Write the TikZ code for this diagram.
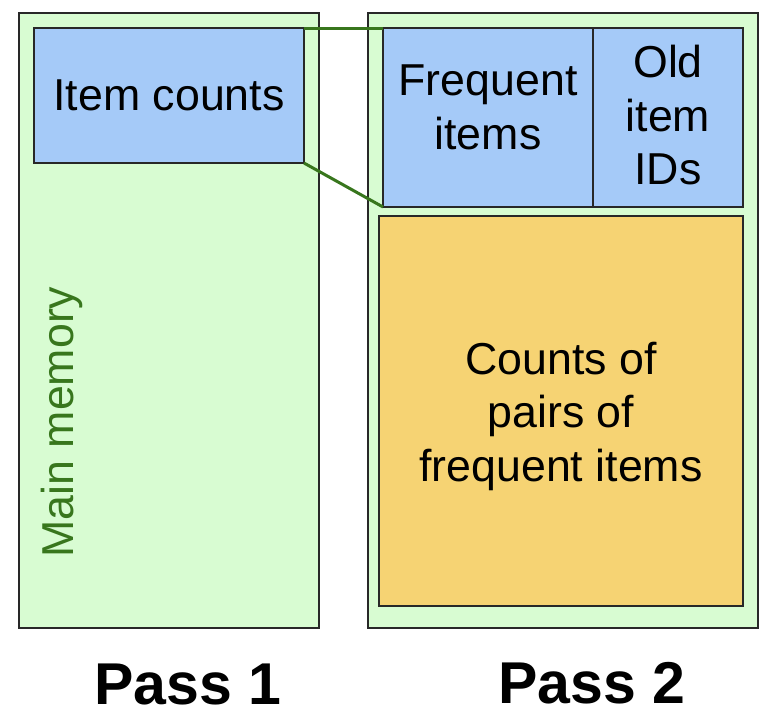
\documentclass[tikz,border=0pt]{standalone}
\usepackage{fontspec}
\setmainfont{Liberation Sans}

\definecolor{memfill}{RGB}{216,252,210}
\definecolor{itemfill}{RGB}{165,202,248}
\definecolor{pairfill}{RGB}{246,211,115}
\definecolor{memgreen}{RGB}{56,118,29}
\definecolor{edgegray}{RGB}{40,40,40}

\begin{document}
\begin{tikzpicture}[
  x=1pt,
  y=-1pt,
  every node/.style={inner sep=0pt, outer sep=0pt},
  boxtext/.style={font=\fontsize{44.7}{53.5}\selectfont, text=black, align=center},
  passtext/.style={font=\bfseries\fontsize{59}{64}\selectfont, text=black, anchor=base},
  panel/.style={draw=edgegray, fill=memfill, line width=1.6pt},
  itembox/.style={draw=edgegray, fill=itemfill, line width=1.8pt},
  pairbox/.style={draw=edgegray, fill=pairfill, line width=1.8pt},
  link/.style={draw=memgreen, line width=3pt}
]

  \path[use as bounding box] (0,0) rectangle (774,724);

  % Pass 1
  \node[panel, minimum width=300pt, minimum height=615pt] (mem1) at (169,320.5) {};
  \node[itembox, minimum width=270pt, minimum height=135pt] (itemcnt) at (169,95.5) {};
  \node[boxtext] (itemcnttxt) at (169,95) {Item counts};
  \node[boxtext, text=memgreen, rotate=90, anchor=base] (memtxt) at (73,422) {Main memory};

  % Pass 2
  \node[panel, minimum width=390pt, minimum height=615pt] (mem2) at (563,320.5) {};
  \node[itembox, minimum width=210pt, minimum height=179pt] (freq) at (488,117.5) {};
  \node[itembox, minimum width=150pt, minimum height=179pt] (oldids) at (668,117.5) {};
  \node[pairbox, minimum width=364pt, minimum height=390pt] (pairs) at (561,411) {};
  \node[boxtext] (freqtxt) at (488,107.5) {Frequent\\items};
  \node[boxtext] (oldidstxt) at (668,115.5) {Old\\item\\IDs};
  \node[boxtext] (pairstxt) at (561,416) {Counts of\\pairs of\\frequent items};

  % Links
  \draw[link] (itemcnt.north east) -- (freq.north west);
  \draw[link] (itemcnt.south east) -- (freq.south west);

  \node[passtext] (pass1) at (188,704) {Pass 1};
  \node[passtext] (pass2) at (592,703) {Pass 2};

\end{tikzpicture}
\end{document}
